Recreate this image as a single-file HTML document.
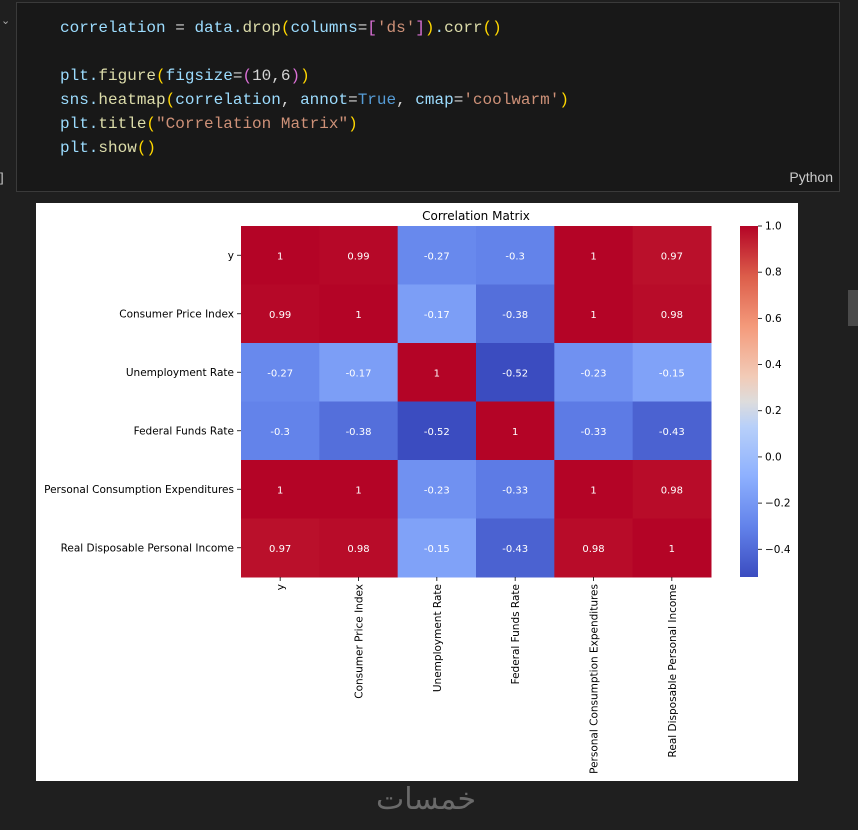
<!DOCTYPE html>
<html><head><meta charset="utf-8"><style>
body{margin:0;width:858px;height:830px;background:#1f1f1f;overflow:hidden;position:relative;font-family:"Liberation Sans",sans-serif}
#cell{position:absolute;left:16px;top:2px;width:822px;height:188px;background:#181818;border:1px solid #3a3a3a}
pre{margin:0;position:absolute;left:43px;top:13px;font-family:"Liberation Mono",monospace;font-size:16px;line-height:24px;color:#9cdcfe}
.f{color:#dcdcaa}.s{color:#ce9178}.b{color:#ffd700}.p{color:#da70d6}.k{color:#4ec9b0}.w{color:#d4d4d4}.c{color:#569cd6}
#plot{position:absolute;left:36px;top:203px}
</style></head><body>
<div id="cell">
<pre>correlation<span class="w"> = </span>data.<span class="f">drop</span><span class="b">(</span>columns<span class="w">=</span><span class="p">[</span><span class="s">'ds'</span><span class="p">]</span><span class="b">)</span>.<span class="f">corr</span><span class="b">()</span>

plt.<span class="f">figure</span><span class="b">(</span>figsize<span class="w">=</span><span class="p">(</span><span class="w">10,6</span><span class="p">)</span><span class="b">)</span>
sns.<span class="f">heatmap</span><span class="b">(</span>correlation<span class="w">, </span>annot<span class="w">=</span><span class="c">True</span><span class="w">, </span>cmap<span class="w">=</span><span class="s">'coolwarm'</span><span class="b">)</span>
plt.<span class="f">title</span><span class="b">(</span><span class="s">"Correlation Matrix"</span><span class="b">)</span>
plt.<span class="f">show</span><span class="b">()</span></pre>
<div style="position:absolute;right:6px;top:166px;color:#ccc;font-size:14px">Python</div>
</div>
<div style="position:absolute;left:0;top:170px;color:#ccc;font-size:13px">]</div>
<div style="position:absolute;left:1px;top:14px;color:#aaa;font-size:11px">⌄</div>
<div style="position:absolute;left:848px;top:290px;width:10px;height:36px;background:#4a4a4a"></div>
<div style="position:absolute;left:376px;top:782px;color:#6a6a6a;font-size:30px;font-family:'DejaVu Sans',sans-serif">خمسات</div>
<svg id="plot" width="762" height="578" xmlns="http://www.w3.org/2000/svg" font-family="DejaVu Sans, Liberation Sans, sans-serif"></svg>
<script>
const labels=["y","Consumer Price Index","Unemployment Rate","Federal Funds Rate","Personal Consumption Expenditures","Real Disposable Personal Income"];
const row0=[1,0.99,-0.27,-0.3,1,0.97];
const row1=[0.99,1,-0.17,-0.38,1,0.98];
const row2=[-0.27,-0.17,1,-0.52,-0.23,-0.15];
const row3=[-0.3,-0.38,-0.52,1,-0.33,-0.43];
const row4=[1,1,-0.23,-0.33,1,0.98];
const row5=[0.97,0.98,-0.15,-0.43,0.98,1];
const matrix=[row0,row1,row2,row3,row4,row5];
const cbTicks=[1.0,0.8,0.6,0.4,0.2,0.0,-0.2,-0.4];
const vmin=-0.52,vmax=1;
const stops=[[0,[59,76,192]],[0.143,[98,130,234]],[0.286,[141,176,254]],[0.429,[184,208,249]],[0.5,[221,220,220]],[0.571,[242,203,183]],[0.714,[244,154,123]],[0.857,[220,93,74]],[1,[180,4,38]]];
function cmap(v){let t=(v-vmin)/(vmax-vmin);t=Math.max(0,Math.min(1,t));
for(let i=1;i<stops.length;i++){if(t<=stops[i][0]){const a=stops[i-1],b=stops[i],f=(t-a[0])/(b[0]-a[0]);
const c=a[1].map((x,k)=>Math.round(x+(b[1][k]-x)*f));return `rgb(${c})`;}}return 'rgb(180,4,38)';}
const svg=document.getElementById('plot');const NS='http://www.w3.org/2000/svg';
function el(t,a,p){const e=document.createElementNS(NS,t);for(const k in a)e.setAttribute(k,a[k]);(p||svg).appendChild(e);return e;}
el('rect',{x:0,y:0,width:762,height:578,fill:'#fff'});
const L=205,T=23,W=470,H=351,n=labels.length,cw=W/n,ch=H/n;
const xPos=i=>L+i*cw,yPos=j=>T+j*ch;
const tt=el('text',{x:L+W/2,y:17,'text-anchor':'middle','font-size':12,fill:'#000'});
tt.textContent='Correlation Matrix';
matrix.forEach((row,j)=>row.forEach((v,i)=>{
const r=el('rect',{x:xPos(i),y:yPos(j),width:cw+0.5,height:ch+0.5,fill:cmap(v)});


const t=el('text',{x:xPos(i)+cw/2,y:yPos(j)+ch/2+4,'text-anchor':'middle','font-size':10,fill:'#fff'});


t.textContent=String(v);
}));
labels.forEach((lb,j)=>{
el('line',{x1:L-4,x2:L,y1:yPos(j)+ch/2,y2:yPos(j)+ch/2,stroke:'#000','stroke-width':0.8});
const t=el('text',{x:L-7,y:yPos(j)+ch/2+3.5,'text-anchor':'end','font-size':10.5,fill:'#000'});


t.textContent=lb;
const x=xPos(j)+cw/2;
el('line',{x1:x,x2:x,y1:T+H,y2:T+H+4,stroke:'#000','stroke-width':0.8});
const u=el('text',{x:0,y:0,'text-anchor':'end','font-size':10.5,fill:'#000',transform:`translate(${x+4},${T+H+7}) rotate(-90)`});


u.textContent=lb;
});
const cbx=704,cbw=18;const cbY=v=>T+(vmax-v)/(vmax-vmin)*H;
const g=el('defs',{});const lg=el('linearGradient',{id:'cb',x1:0,y1:1,x2:0,y2:0},g);
stops.forEach(s=>el('stop',{offset:s[0],'stop-color':`rgb(${s[1]})`},lg));
const cb=el('rect',{x:cbx,y:T,width:cbw,height:H,fill:'url(#cb)'});


cbTicks.forEach(v=>{const y=cbY(v);
el('line',{x1:cbx+cbw,x2:cbx+cbw+4,y1:y,y2:y,stroke:'#000','stroke-width':0.8});
const t=el('text',{x:cbx+cbw+7,y:y+3.5,'font-size':10.5,fill:'#000'});


t.textContent=(v<0?'\u2212':'')+Math.abs(v).toFixed(1);});
</script>
</body></html>
